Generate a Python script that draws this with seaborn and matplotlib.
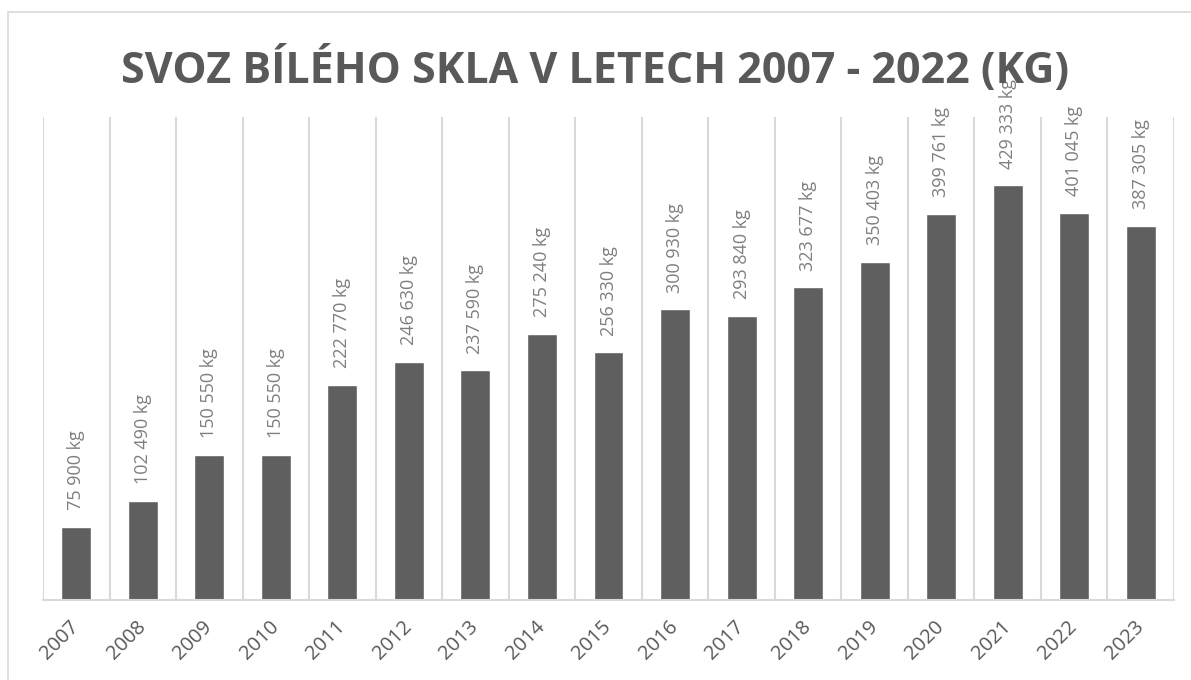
import matplotlib
matplotlib.use("Agg")
import matplotlib.pyplot as plt
import seaborn as sns
import pandas as pd
from matplotlib.patches import Rectangle

years = ["2007", "2008", "2009", "2010", "2011", "2012", "2013", "2014", "2015",
         "2016", "2017", "2018", "2019", "2020", "2021", "2022", "2023"]
weights = [75900, 102490, 150550, 150550, 222770, 246630, 237590, 275240, 256330,
           300930, 293840, 323677, 350403, 399761, 429333, 401045, 387305]
title = "SVOZ BÍLÉHO SKLA V LETECH 2007 - 2022 (KG)"

df = pd.DataFrame({"rok": years, "kg": weights})

sns.set_style("white")
plt.rcParams['font.family'] = ['Open Sans', 'DejaVu Sans']

fig = plt.figure(figsize=(11.91, 6.80), dpi=100)
ax = fig.add_axes([43 / 1191, 1 - 600 / 680, (1174 - 43) / 1191, (600 - 117) / 680])

sns.barplot(data=df, x="rok", y="kg", color="#5f5f5f", saturation=1, width=0.45, ax=ax)

ax.set_ylim(0, 500000)
ax.set_xlim(-0.5, len(years) - 0.5)
ax.set_xlabel("")
ax.set_ylabel("")
ax.set_yticks([])

# vertical separators between categories
ax.set_xticks([i - 0.5 for i in range(len(years) + 1)], minor=True)
ax.grid(axis="x", which="minor", color="#d9d9d9", linewidth=1.5)
ax.tick_params(axis="x", which="minor", length=0)
ax.tick_params(axis="x", which="major", length=0, pad=17)

for s in ["top", "left", "right"]:
    ax.spines[s].set_visible(False)
ax.spines["bottom"].set_color("#d9d9d9")
ax.spines["bottom"].set_linewidth(1.5)

for lab in ax.get_xticklabels():
    lab.set_rotation(45)
    lab.set_ha("right")
    lab.set_va("center")
    lab.set_rotation_mode("anchor")
    lab.set_fontsize(14.5)
    lab.set_color("#595959")

for i, v in enumerate(weights):
    label = f"{v:,}".replace(",", " ") + " kg"
    ax.annotate(label, (i, v), xytext=(0, 12), textcoords="offset points",
                rotation=90, ha="center", va="bottom", fontsize=13, color="#7f7f7f")

fig.text(0.5, 1 - 70 / 680, title, ha="center", va="center", fontsize=31,
         fontweight="bold", color="#595959")

# chart area border
fig.patches.append(Rectangle((8 / 1191, -0.1), 1.2, 1 - 12 / 680 + 0.1,
                             transform=fig.transFigure, fill=False,
                             edgecolor="#d9d9d9", linewidth=1.2))

fig.savefig("out.png", dpi=100)
